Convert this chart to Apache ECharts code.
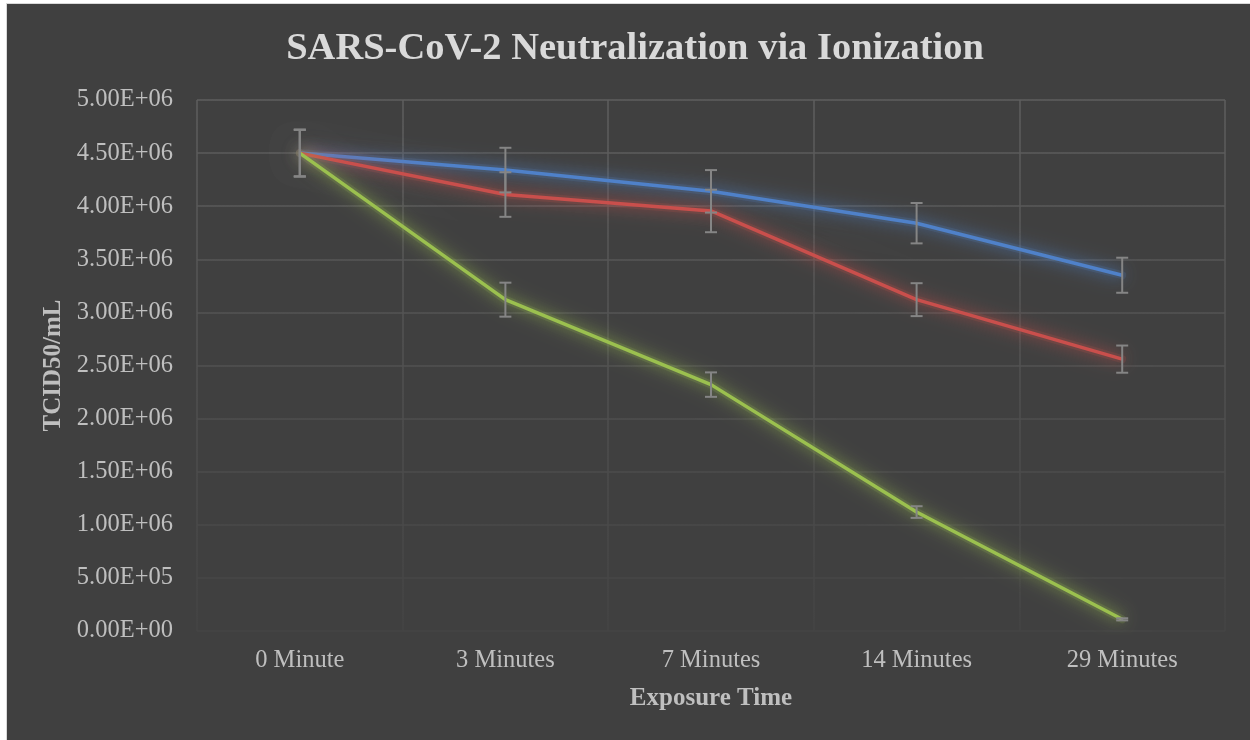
<!DOCTYPE html>
<html>
<head>
<meta charset="utf-8">
<script src="https://cdn.jsdelivr.net/npm/echarts@6/dist/echarts.min.js"></script>
<style>
  html, body { margin: 0; padding: 0; background: #ffffff; width: 1250px; height: 740px; overflow: hidden; }
  #bg { position: absolute; left: 6px; top: 3px; width: 1260px; height: 750px; background: #404040; border-left: 1px solid #d9d9d9; border-top: 1px solid #d9d9d9; }
  #chart { position: absolute; left: 0; top: 0; width: 1250px; height: 740px; }
</style>
</head>
<body>
<div id="bg"></div>
<div id="chart"></div>
<script>
const categories = ['0 Minute', '3 Minutes', '7 Minutes', '14 Minutes', '29 Minutes'];
const seriesNames = ['Series A', 'Series B', 'Series C'];
const blueValues  = [4.50e6, 4.34e6, 4.14e6, 3.84e6, 3.35e6];
const blueErrors  = [0.22e6, 0.21e6, 0.20e6, 0.19e6, 0.165e6];
const redValues   = [4.50e6, 4.11e6, 3.955e6, 3.12e6, 2.56e6];
const redErrors   = [0.22e6, 0.21e6, 0.20e6, 0.155e6, 0.128e6];
const greenValues = [4.50e6, 3.12e6, 2.32e6, 1.12e6, 0.11e6];
const greenErrors = [0.22e6, 0.16e6, 0.115e6, 0.055e6, 0.01e6];
const yMin = 0, yMax = 5e6, yInterval = 5e5;

const titleText = 'SARS-CoV-2 Neutralization via Ionization';
const xAxisName = 'Exposure Time';
const yAxisName = 'TCID50/mL';

const FONT = '"Liberation Serif", "DejaVu Serif", serif';
const colors = ['#4f81c9', '#c94f4c', '#9bc04f'];

function sci(v) {
  if (v === 0) return '0.00E+00';
  const s = v.toExponential(2).split('e');
  let exp = parseInt(s[1], 10);
  const sign = exp < 0 ? '-' : '+';
  exp = Math.abs(exp);
  return s[0] + 'E' + sign + (exp < 10 ? '0' + exp : '' + exp);
}

function glowSeries(values, color) {
  return {
    type: 'line', data: values, showSymbol: false, symbol: 'none',
    lineStyle: { color: color, width: 8, opacity: 0.16, shadowBlur: 26, shadowColor: color, cap: 'round', join: 'round' },
    z: 2, silent: true
  };
}

function lineSeries(name, values, color) {
  return {
    name: name, type: 'line', data: values, showSymbol: false, symbol: 'none',
    lineStyle: { color: color, width: 3.5, shadowBlur: 14, shadowColor: color },
    itemStyle: { color: color },
    z: 3, silent: true
  };
}

function errorSeries(values, errs) {
  const data = values.map((v, i) => [i, v - errs[i], v + errs[i]]);
  return {
    type: 'custom', z: 5, silent: true,
    data: data,
    encode: { x: 0, y: [1, 2] },
    renderItem: function (params, api) {
      const x = api.value(0);
      const lo = api.coord([x, api.value(1)]);
      const hi = api.coord([x, api.value(2)]);
      const hw = 6;
      const style = { stroke: '#858585', lineWidth: 2, fill: null };
      return {
        type: 'group',
        children: [
          { type: 'line', shape: { x1: lo[0], y1: lo[1], x2: hi[0], y2: hi[1] }, style: style },
          { type: 'line', shape: { x1: lo[0] - hw, y1: lo[1], x2: lo[0] + hw, y2: lo[1] }, style: style },
          { type: 'line', shape: { x1: hi[0] - hw, y1: hi[1], x2: hi[0] + hw, y2: hi[1] }, style: style }
        ]
      };
    }
  };
}

const gridGradient = {
  type: 'linear', x: 0, y: 100, x2: 0, y2: 631, global: true,
  colorStops: [{ offset: 0, color: '#5e5e5e' }, { offset: 1, color: '#444444' }]
};

const chart = echarts.init(document.getElementById('chart'), null, { renderer: 'canvas' });
chart.setOption({
  backgroundColor: 'transparent',
  animation: false,
  title: {
    text: titleText, left: 630, top: 25, textAlign: 'center',
    textStyle: { fontFamily: FONT, fontWeight: 'bold', fontSize: 38.5, color: '#d9d9d9' }
  },
  grid: { left: 197, right: 25, top: 100, bottom: 109, containLabel: false },
  xAxis: {
    type: 'category', data: categories, boundaryGap: true,
    name: xAxisName, nameLocation: 'middle', nameGap: 55,
    nameTextStyle: { fontFamily: FONT, fontWeight: 'bold', fontSize: 25, color: '#bfbfbf' },
    axisLine: { show: false }, axisTick: { show: false },
    axisLabel: { fontFamily: FONT, fontSize: 24.5, color: '#bfbfbf', margin: 17, interval: 0 },
    splitLine: { show: true, interval: 0, lineStyle: { color: gridGradient, width: 1.5 } }
  },
  yAxis: {
    type: 'value', min: yMin, max: yMax, interval: yInterval,
    name: yAxisName, nameLocation: 'middle', nameGap: 126, nameRotate: 90,
    nameTextStyle: { fontFamily: FONT, fontWeight: 'bold', fontSize: 25, color: '#bfbfbf' },
    axisLine: { show: false }, axisTick: { show: false },
    axisLabel: { fontFamily: FONT, fontSize: 24.5, color: '#bfbfbf', margin: 24, formatter: sci },
    splitLine: { show: true, lineStyle: { color: gridGradient, width: 1.5 } }
  },
  series: [
    glowSeries(blueValues, colors[0]),
    glowSeries(redValues, colors[1]),
    glowSeries(greenValues, colors[2]),
    lineSeries(seriesNames[0], blueValues, colors[0]),
    lineSeries(seriesNames[1], redValues, colors[1]),
    lineSeries(seriesNames[2], greenValues, colors[2]),
    errorSeries(blueValues, blueErrors),
    errorSeries(redValues, redErrors),
    errorSeries(greenValues, greenErrors)
  ]
});
</script>
</body>
</html>
